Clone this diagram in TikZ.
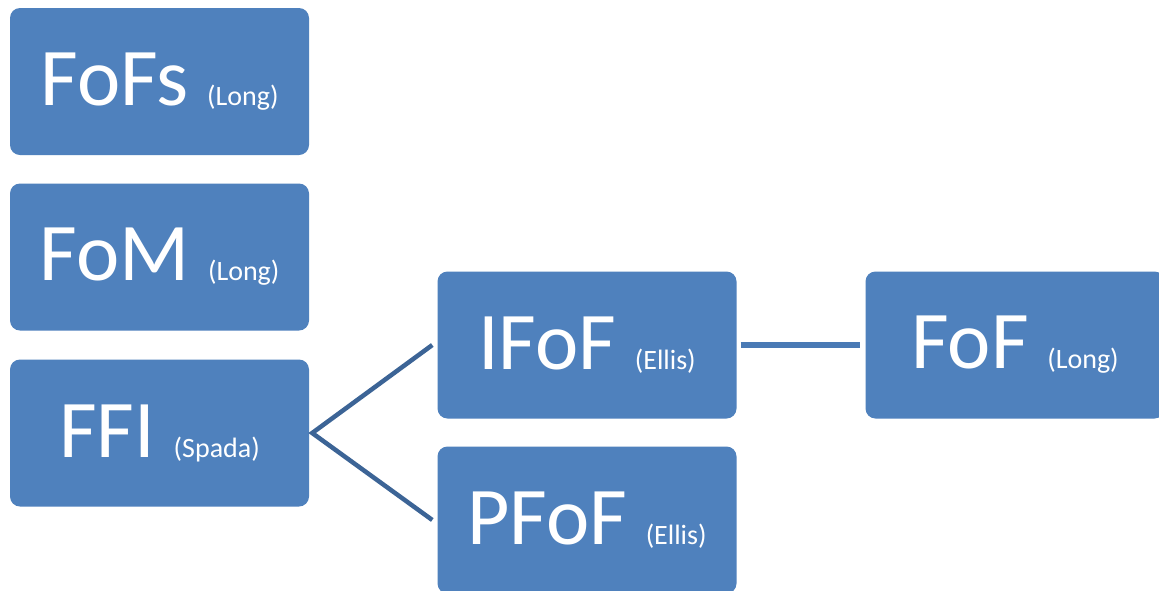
\documentclass[tikz,border=0pt]{standalone}
\usepackage{fontspec}
\setmainfont{Carlito}
\definecolor{boxblue}{HTML}{4F81BD}
\definecolor{diagline}{HTML}{3C6496}
\definecolor{hline}{HTML}{4A7AB5}
\newcommand{\bigtxt}{\fontsize{82}{82}\selectfont}
\newcommand{\smalltxt}{\fontsize{28}{28}\selectfont}
\tikzset{
  blockbox/.style={rectangle, rounded corners=10pt, fill=boxblue, text=white,
    minimum width=299pt, minimum height=147pt, inner sep=0pt, font=\bigtxt},
  diagconn/.style={draw=diagline, line width=4.5pt},
  horizconn/.style={draw=hline, line width=5.5pt}
}
\begin{document}
\begin{tikzpicture}[x=1pt,y=-1pt]
\clip (0,0) rectangle (1159,590);
\fill[white] (0,0) rectangle (1159,590);
\node[blockbox] (fofs) at (159.5,81.5) {FoFs {\smalltxt(Long)}};
\node[blockbox] (fom) at (159.5,257) {FoM {\smalltxt(Long)}};
\node[blockbox] (ffi) at (159.5,433) {FFI {\smalltxt(Spada)}};
\node[blockbox] (ifof) at (587,345) {IFoF {\smalltxt(Ellis)}};
\node[blockbox] (pfof) at (587,520) {PFoF {\smalltxt(Ellis)}};
\node[blockbox] (fof) at (1015,345) {FoF {\smalltxt(Long)}};
\coordinate (apex) at ([xshift=3pt]ffi.east);
\coordinate (ifofin) at ([xshift=-5pt]ifof.west);
\coordinate (pfofin) at ([xshift=-5pt]pfof.west);
\coordinate (ifofout) at ([xshift=4pt]ifof.east);
\coordinate (fofin) at ([xshift=-5pt]fof.west);
\draw[diagconn] (ifofin) -- (apex) -- (pfofin);
\draw[horizconn] (ifofout) -- (fofin);
\end{tikzpicture}
\end{document}
